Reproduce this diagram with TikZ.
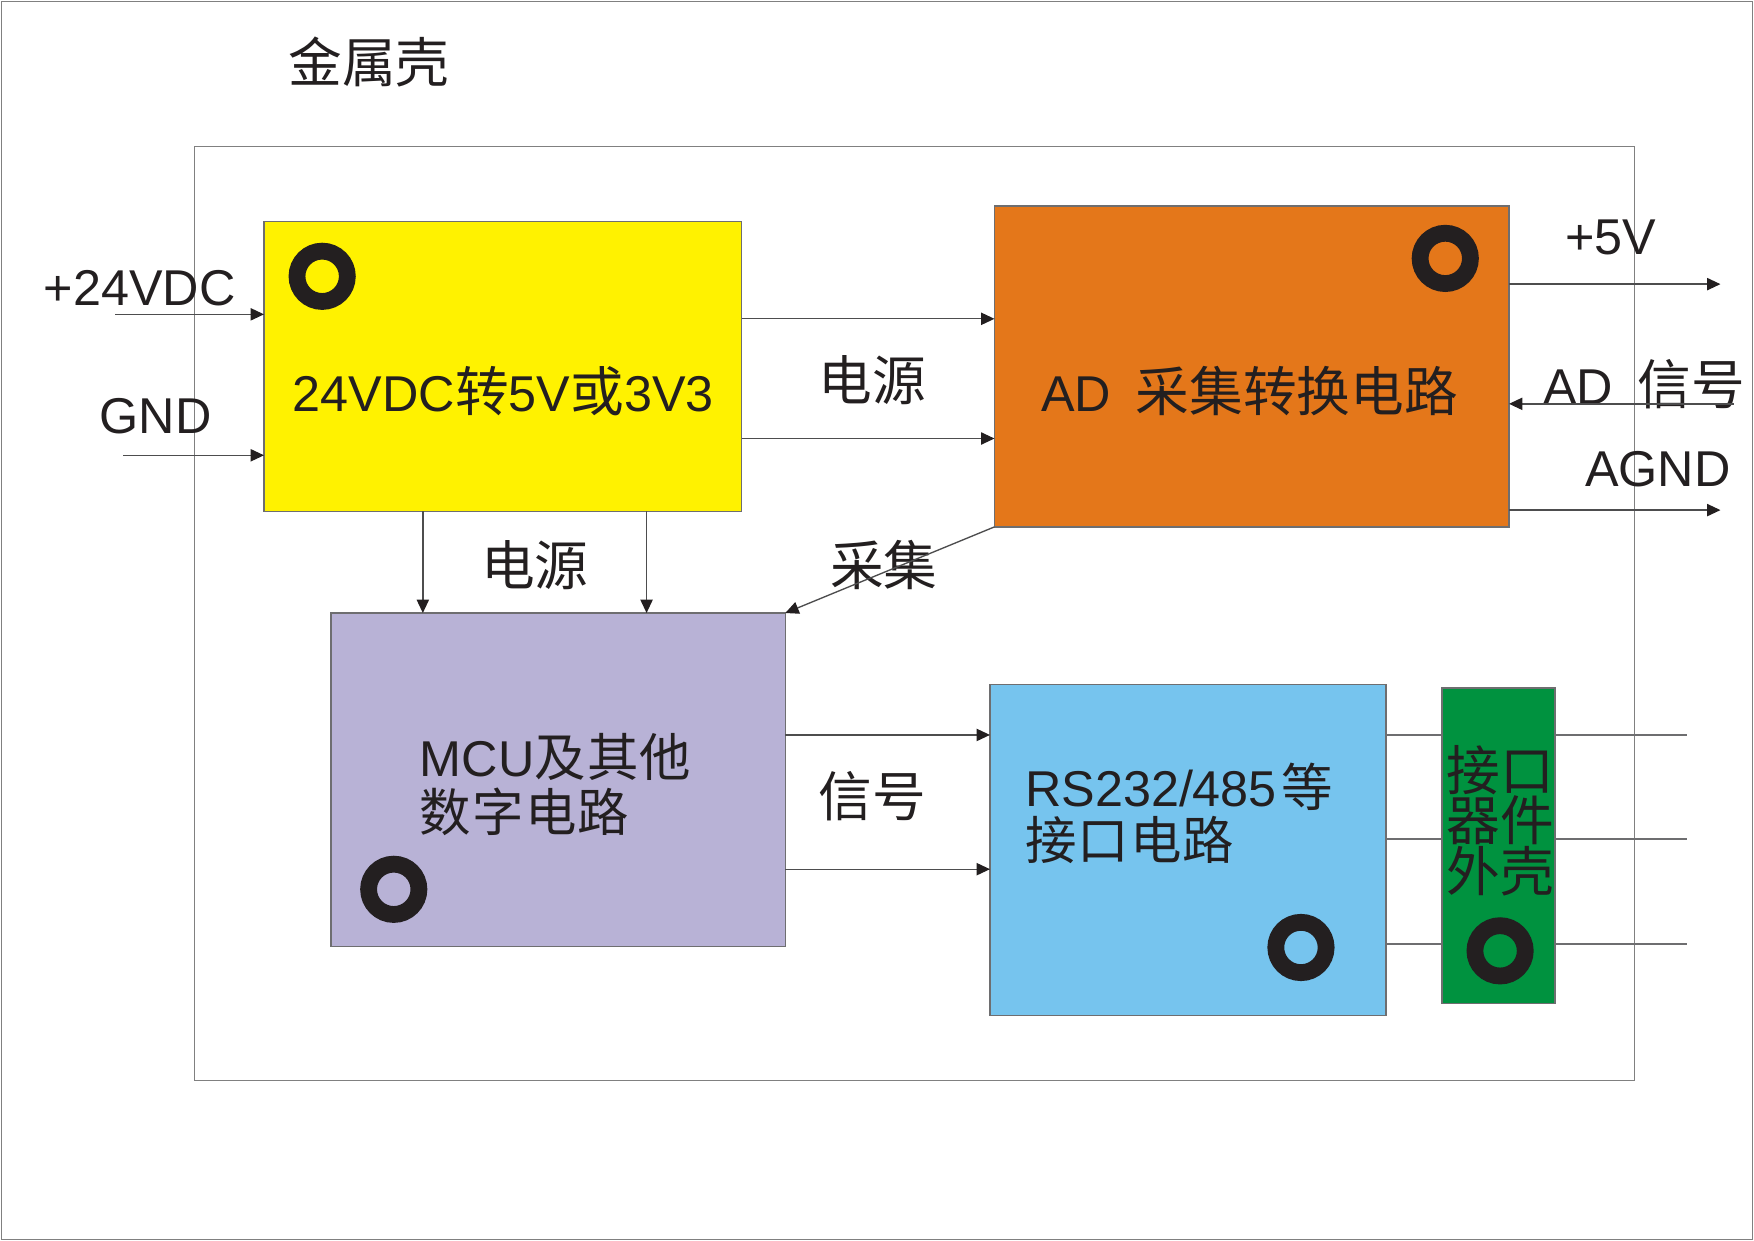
\documentclass[tikz,border=0pt]{standalone}
\usepackage{fontspec}
\setmainfont{Liberation Sans}
\newfontfamily\cjk{Noto Sans CJK SC}
\usetikzlibrary{arrows.meta,calc}
\definecolor{ylw}{RGB}{255,242,0}
\definecolor{org}{RGB}{228,119,26}
\definecolor{lav}{RGB}{184,178,214}
\definecolor{sky}{RGB}{118,196,238}
\definecolor{grn}{RGB}{0,146,63}
\definecolor{ink}{RGB}{35,31,32}
\definecolor{edge}{RGB}{110,110,112}
\newcommand\zh[1]{{\cjk\fontsize{24}{24}\selectfont #1}}
\newcommand\zhs[1]{{\cjk\fontsize{23}{24}\selectfont #1}}
\begin{document}
\begin{tikzpicture}[x=0.5pt,y=-0.5pt,
  blk/.style={draw=edge,line width=0.6pt,inner sep=0pt,outer sep=0pt,rectangle},
  frm/.style={draw=gray,line width=0.5pt,inner sep=0pt,outer sep=0pt,rectangle},
  lbl/.style={text=ink,font=\fontsize{22.5}{23.5}\selectfont,inner sep=0pt},
  ring/.style={circle,draw=ink,line width=7.5pt,minimum size=22.5pt,inner sep=0pt},
  arr/.style={draw=edge!70!black,line width=0.6pt,-{Triangle[length=6pt,width=5.5pt,color=ink]}},
  wire/.style={draw=edge,line width=0.6pt}]
\useasboundingbox (0,0) rectangle (1568,1109);
\draw[gray,line width=0.5pt] (1,1) rectangle (1567,1108);

% frame
\node[frm,minimum width=643.5pt,minimum height=417.5pt] (frame) at (817.5,548.5) {};
\node[lbl] (title) at (330,55) {\zh{金属壳}};

% blocks
\node[blk,fill=ylw,minimum width=213.5pt,minimum height=129.5pt] (ps) at (449.5,327.5) {};
\node[blk,fill=org,minimum width=230pt,minimum height=143.5pt] (ad) at (1119,327.5) {};
\node[blk,fill=lav,minimum width=203pt,minimum height=149pt] (mcu) at (499,697) {};
\node[blk,fill=sky,minimum width=177pt,minimum height=148pt] (rs) at (1062,760) {};
\node[blk,fill=grn,minimum width=50.5pt,minimum height=141pt] (gr) at (1339.5,756) {};

% rings
\node[ring] (r1) at (288,247) {};
\node[ring] (r2) at (1292,231) {};
\node[ring] (r3) at (352,795) {};
\node[ring] (r4) at (1163,847) {};
\node[ring] (r5) at (1341,850) {};

% block texts
\node[lbl] (tps) at (450,350) {24VDC\zh{转}5V\zh{或}3V3};
\node[lbl] (tad) at (1117,350) {AD\hspace{11pt}\zh{采集转换电路}};
\node[lbl,align=left,anchor=west,font=\fontsize{22.5}{24.5}\selectfont] (tmcu) at (375,701) {MCU\zhs{及}\hspace{0.5pt}\zhs{其}\hspace{0.5pt}\zhs{他}\\\zhs{数}\hspace{0.5pt}\zhs{字}\hspace{0.5pt}\zhs{电}\hspace{0.5pt}\zhs{路}};
\node[lbl,align=left,anchor=west,font=\fontsize{22.5}{24}\selectfont] (trs) at (916,727) {RS232/485\hspace{2pt}\zhs{等}\\\zhs{接}\hspace{0.5pt}\zhs{口}\hspace{0.5pt}\zhs{电}\hspace{0.5pt}\zhs{路}};
\node[lbl,align=center,font=\fontsize{24}{22.5}\selectfont] (tgr) at (1341.5,733.5) {\zh{接口}\\\zh{器件}\\\zh{外壳}};

% outside labels
\node[lbl] (l24) at (125,258) {+24VDC};
\node[lbl] (lgnd) at (139,372) {GND};
\node[lbl] (l5v) at (1440,212) {+5V};
\node[lbl,anchor=west] (lsig) at (1379,343) {AD\hspace{11pt}\zh{信号}};
\node[lbl] (lagnd) at (1482,419) {AGND};
\node[lbl] (lpw1) at (780,340) {\zh{电源}};
\node[lbl] (lpw2) at (478,505) {\zh{电源}};
\node[lbl] (lcj) at (790,505) {\zh{采集}};
\node[lbl] (lxh) at (780,712) {\zh{信号}};

% coordinates
\coordinate (in24) at (103,281);
\coordinate (ingnd) at (110,407);
\coordinate (p1) at (0,285);
\coordinate (p2) at (0,392);
\coordinate (v1) at (378,0);
\coordinate (v2) at (578,0);
\coordinate (s1) at (0,657);
\coordinate (s2) at (0,777);
\coordinate (out5) at (1538,254);
\coordinate (adin) at (1550,361);
\coordinate (agnd) at (1538,456);
\coordinate (o1) at (1508,657);
\coordinate (o2) at (1508,750);
\coordinate (o3) at (1508,844);

% connectors
\draw[arr] (in24) -- (in24 -| ps.west);
\draw[arr] (ingnd) -- (ingnd -| ps.west);
\draw[arr] (ps.east |- p1) -- (ad.west |- p1);
\draw[arr] (ps.east |- p2) -- (ad.west |- p2);
\draw[arr] (ps.south -| v1) -- (mcu.north -| v1);
\draw[arr] (ps.south -| v2) -- (mcu.north -| v2);
\draw[arr] (ad.south west) -- (mcu.north east);
\draw[arr] (mcu.east |- s1) -- (rs.west |- s1);
\draw[arr] (mcu.east |- s2) -- (rs.west |- s2);
\draw[arr] (ad.east |- out5) -- (out5);
\draw[arr] (adin) -- (adin -| ad.east);
\draw[arr] (ad.east |- agnd) -- (agnd);
\foreach \o in {o1,o2,o3}{
  \draw[wire] (rs.east |- \o) -- (gr.west |- \o);
  \draw[wire] (gr.east |- \o) -- (\o);
}
\end{tikzpicture}
\end{document}
